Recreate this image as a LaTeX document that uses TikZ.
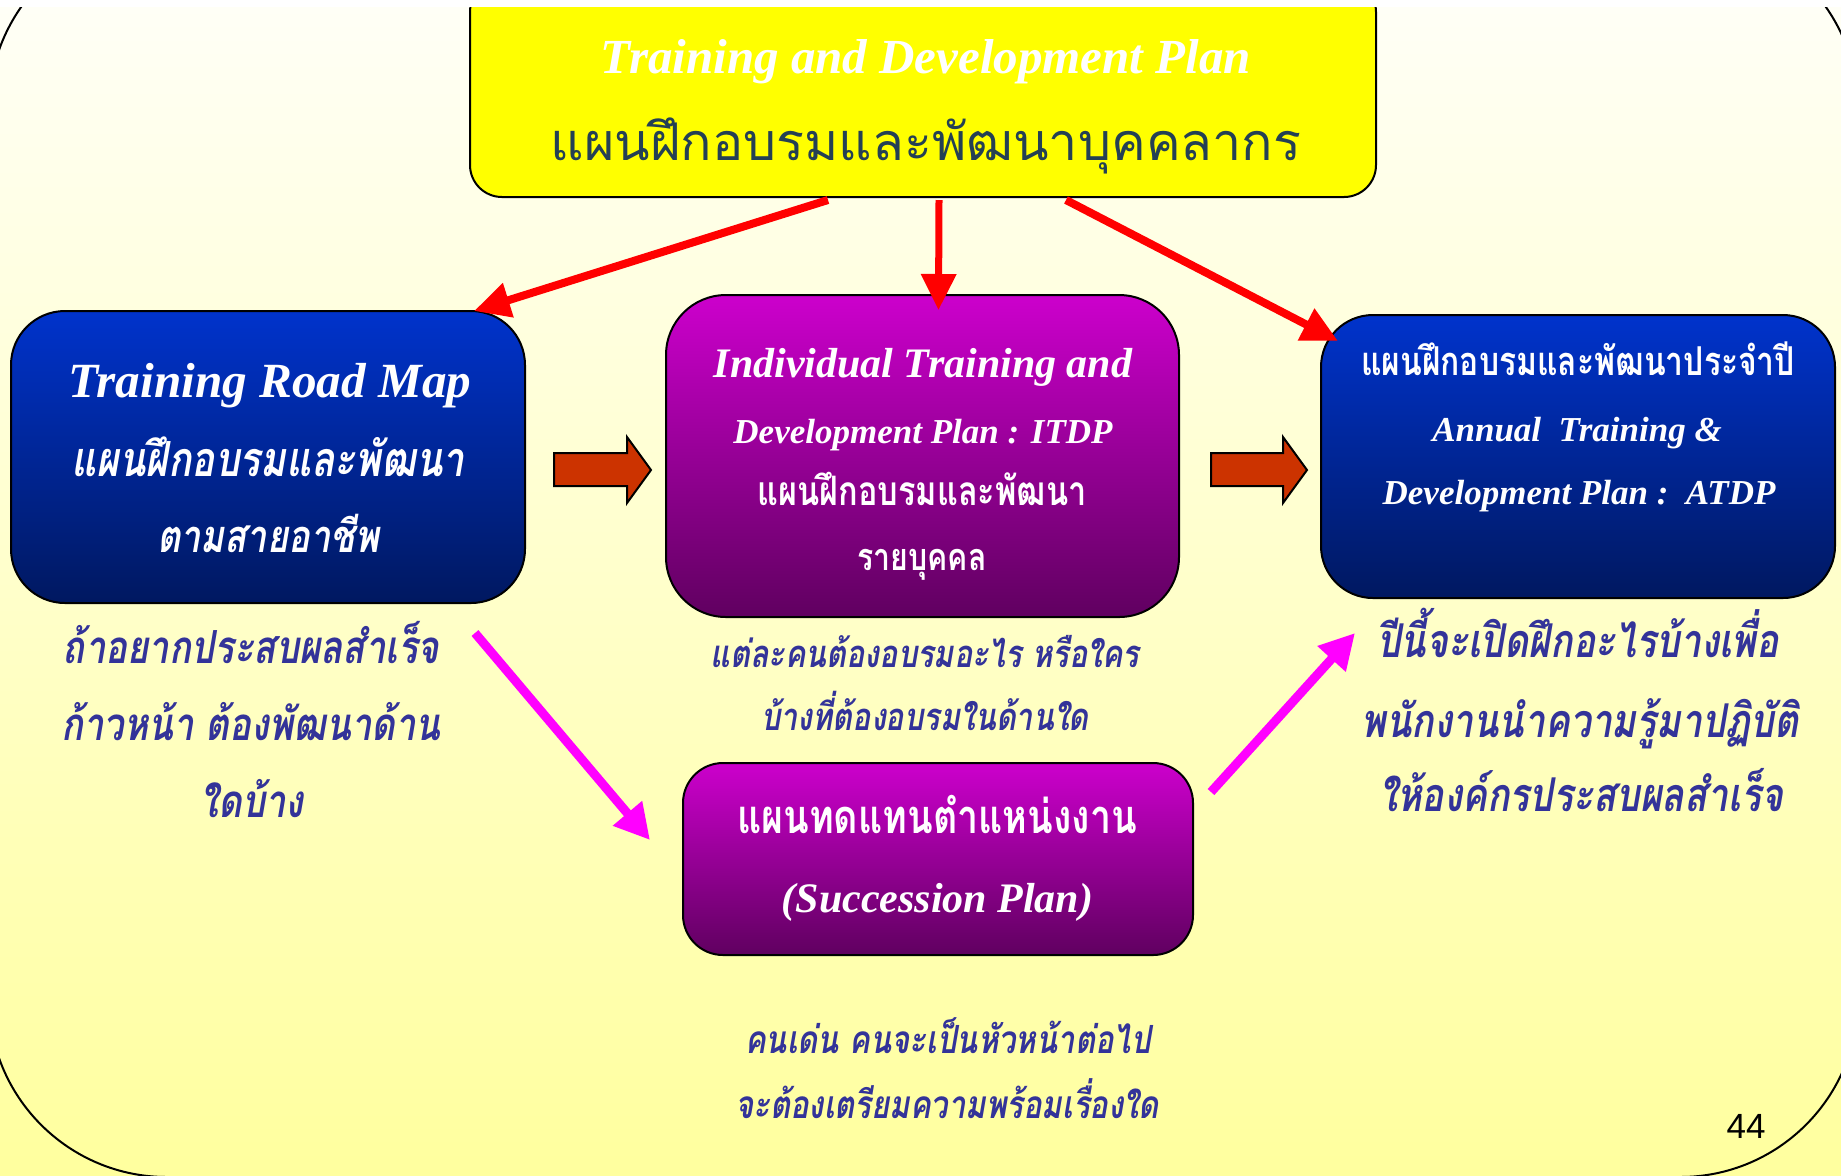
\documentclass[tikz,border=0pt]{standalone}
\usepackage{fontspec}
\setmainfont{Liberation Serif}
\newfontfamily\thai[Script=Thai]{Loma}
\newfontfamily\thaic[Script=Thai,FakeStretch=0.8]{Loma}
\newfontfamily\numfont{Liberation Sans}
\usetikzlibrary{arrows.meta,calc}

\definecolor{bgtop}{RGB}{255,255,246}
\definecolor{bgbot}{RGB}{255,255,158}
\definecolor{tdpyel}{RGB}{255,255,0}
\definecolor{bluetop}{RGB}{0,51,204}
\definecolor{bluebot}{RGB}{0,24,96}
\definecolor{purtop}{RGB}{204,0,204}
\definecolor{purbot}{RGB}{96,0,96}
\definecolor{arrorange}{RGB}{204,51,0}
\definecolor{notecol}{RGB}{51,51,153}
\definecolor{titlethai}{RGB}{36,64,84}
\definecolor{flowred}{RGB}{255,0,0}
\definecolor{flowmag}{RGB}{255,0,255}

\newcommand{\setfs}[1]{\fontsize{#1}{#1}\selectfont}

\begin{document}
\begin{tikzpicture}[x=0.5pt,y=-0.5pt,
  box/.style={draw=black, line width=1pt, inner sep=0pt, outer sep=0pt},
  bluebox/.style={box, top color=bluetop, bottom color=bluebot},
  purbox/.style={box, top color=purtop, bottom color=purbot},
  txt/.style={anchor=base, inner sep=0pt, outer sep=0pt},
  eng/.style={txt, text=white},
  thw/.style={txt, text=white},
  note/.style={txt, text=notecol},
  redflow/.style={draw=flowred, line width=4pt, -{Triangle[length=18pt,width=17pt]}},
  magflow/.style={draw=flowmag, line width=4.5pt, -{Triangle[length=17.5pt,width=18pt]}},
  blockarr/.style={fill=arrorange, draw=black, line width=1pt, line join=miter}
]
\useasboundingbox (0,0) rectangle (1841,1175);
\fill[white] (0,0) rectangle (1841,1175);
\begin{scope}
\clip (0,7) rectangle (1841,1175);
% slide background and its rounded frame
\shade[top color=bgtop, bottom color=bgbot] (0,7) rectangle (1841,1175);
\draw[line width=1pt, rounded corners=89pt] (-11,-69) rectangle (1858,1177);

% boxes
\node[box, fill=tdpyel, rounded corners=16pt, minimum width=453pt, minimum height=108.5pt] (tdp) at (923,88.5) {};
\node[bluebox, rounded corners=27pt, minimum width=257pt, minimum height=146pt] (rm) at (268,457) {};
\node[purbox, rounded corners=30pt, minimum width=256.5pt, minimum height=161pt] (itdp) at (922.5,456) {};
\node[purbox, rounded corners=20pt, minimum width=255pt, minimum height=96pt] (sp) at (938,859) {};
\node[bluebox, rounded corners=26pt, minimum width=257pt, minimum height=141.5pt] (atdp) at (1578,456.5) {};

% title box text
\node[eng, font={\setfs{24.5}\bfseries\itshape}] (tdpen) at (926,73) {Training and Development Plan};
\node[txt, text=titlethai, font={\thai\setfs{26}}] (tdpth) at (926,160) {แผนฝึกอบรมและพัฒนาบุคคลากร};

% road map box text
\node[eng, font={\setfs{24.6}\bfseries\itshape}] (rmen) at (270,397) {Training Road Map};
\node[thw, font={\thaic\setfs{24.2}\bfseries\itshape}] (rmth1) at (268,476) {แผนฝึกอบรมและพัฒนา};
\node[thw, font={\thaic\setfs{22.6}\bfseries\itshape}] (rmth2) at (268,552) {ตามสายอาชีพ};

% ITDP box text
\node[eng, font={\setfs{21}\bfseries\itshape}] (itdpen1) at (923,377) {Individual Training and};
\node[eng, font={\setfs{17.5}\bfseries\itshape}] (itdpen2) at (923,443) {Development Plan : ITDP};
\node[thw, font={\thaic\setfs{20.3}\bfseries}] (itdpth1) at (922,505) {แผนฝึกอบรมและพัฒนา};
\node[thw, font={\thaic\setfs{18.9}\bfseries}] (itdpth2) at (922,570) {รายบุคคล};

% ATDP box text
\node[thw, font={\thaic\setfs{19.9}\bfseries}] (atdpth) at (1578,375) {แผนฝึกอบรมและพัฒนาประจำปี};
\node[eng, font={\setfs{17.5}\bfseries\itshape}] (atdpen1) at (1577,441) {Annual\ \ Training \&};
\node[eng, font={\setfs{17.5}\bfseries\itshape}] (atdpen2) at (1579,504) {Development Plan :\ \ ATDP};

% succession box text
\node[thw, font={\thaic\setfs{23.5}\bfseries}] (spth) at (937,833) {แผนทดแทนตำแหน่งงาน};
\node[eng, font={\setfs{21}\bfseries\itshape}] (spen) at (937.5,912) {(Succession Plan)};

% notes under the boxes
\node[note, font={\thaic\setfs{22.8}\bfseries\itshape}] (n1a) at (251,663) {ถ้าอยากประสบผลสำเร็จ};
\node[note, font={\thaic\setfs{22.8}\bfseries\itshape}] (n1b) at (251,740) {ก้าวหน้า ต้องพัฒนาด้าน};
\node[note, font={\thaic\setfs{22.8}\bfseries\itshape}] (n1c) at (252,817) {ใดบ้าง};

\node[note, font={\thaic\setfs{19.1}\bfseries\itshape}] (n2a) at (925,667) {แต่ละคนต้องอบรมอะไร หรือใคร};
\node[note, font={\thaic\setfs{19.1}\bfseries\itshape}] (n2b) at (925,730) {บ้างที่ต้องอบรมในด้านใด};

\node[note, font={\thaic\setfs{23.3}\bfseries\itshape}] (n3a) at (1578,657) {ปีนี้จะเปิดฝึกอะไรบ้างเพื่อ};
\node[note, font={\thaic\setfs{23.3}\bfseries\itshape}] (n3b) at (1580,737) {พนักงานนำความรู้มาปฏิบัติ};
\node[note, font={\thaic\setfs{23.3}\bfseries\itshape}] (n3c) at (1581,811) {ให้องค์กรประสบผลสำเร็จ};

\node[note, font={\thaic\setfs{19.4}\bfseries\itshape}] (n4a) at (948,1053) {คนเด่น คนจะเป็นหัวหน้าต่อไป};
\node[note, font={\thaic\setfs{19.4}\bfseries\itshape}] (n4b) at (947,1118) {จะต้องเตรียมความพร้อมเรื่องใด};

% block arrows between the plan boxes
\path[blockarr] (554,453) -- (627,453) -- (627,437) -- (651,470) -- (627,503) -- (627,486) -- (554,486) -- cycle;
\path[blockarr] (1211,453) -- (1283,453) -- (1283,437) -- (1307,470) -- (1283,503) -- (1283,486) -- (1211,486) -- cycle;

% red flows from the overall plan
\draw[redflow] ($(tdp.south)+(-95,3)$) -- ($(rm.north east)+(-51,0)$);
\draw[redflow, line width=3.5pt] ($(tdp.south)+(16,3)$) -- ($(itdp.north)+(16,15)$);
\draw[redflow] ($(tdp.south)+(143,3)$) -- ($(atdp.north west)+(17,26)$);

% magenta flows through the succession plan
\draw[magflow] ($(rm.south east)+(-50,30)$) -- ($(sp.north west)+(-33,77)$);
\draw[magflow] ($(sp.north east)+(18,29)$) -- ($(atdp.south west)+(34,35)$);

% page number
\node[txt, font={\numfont\setfs{17.5}}] (pg) at (1746,1138) {44};
\end{scope}
\end{tikzpicture}
\end{document}
